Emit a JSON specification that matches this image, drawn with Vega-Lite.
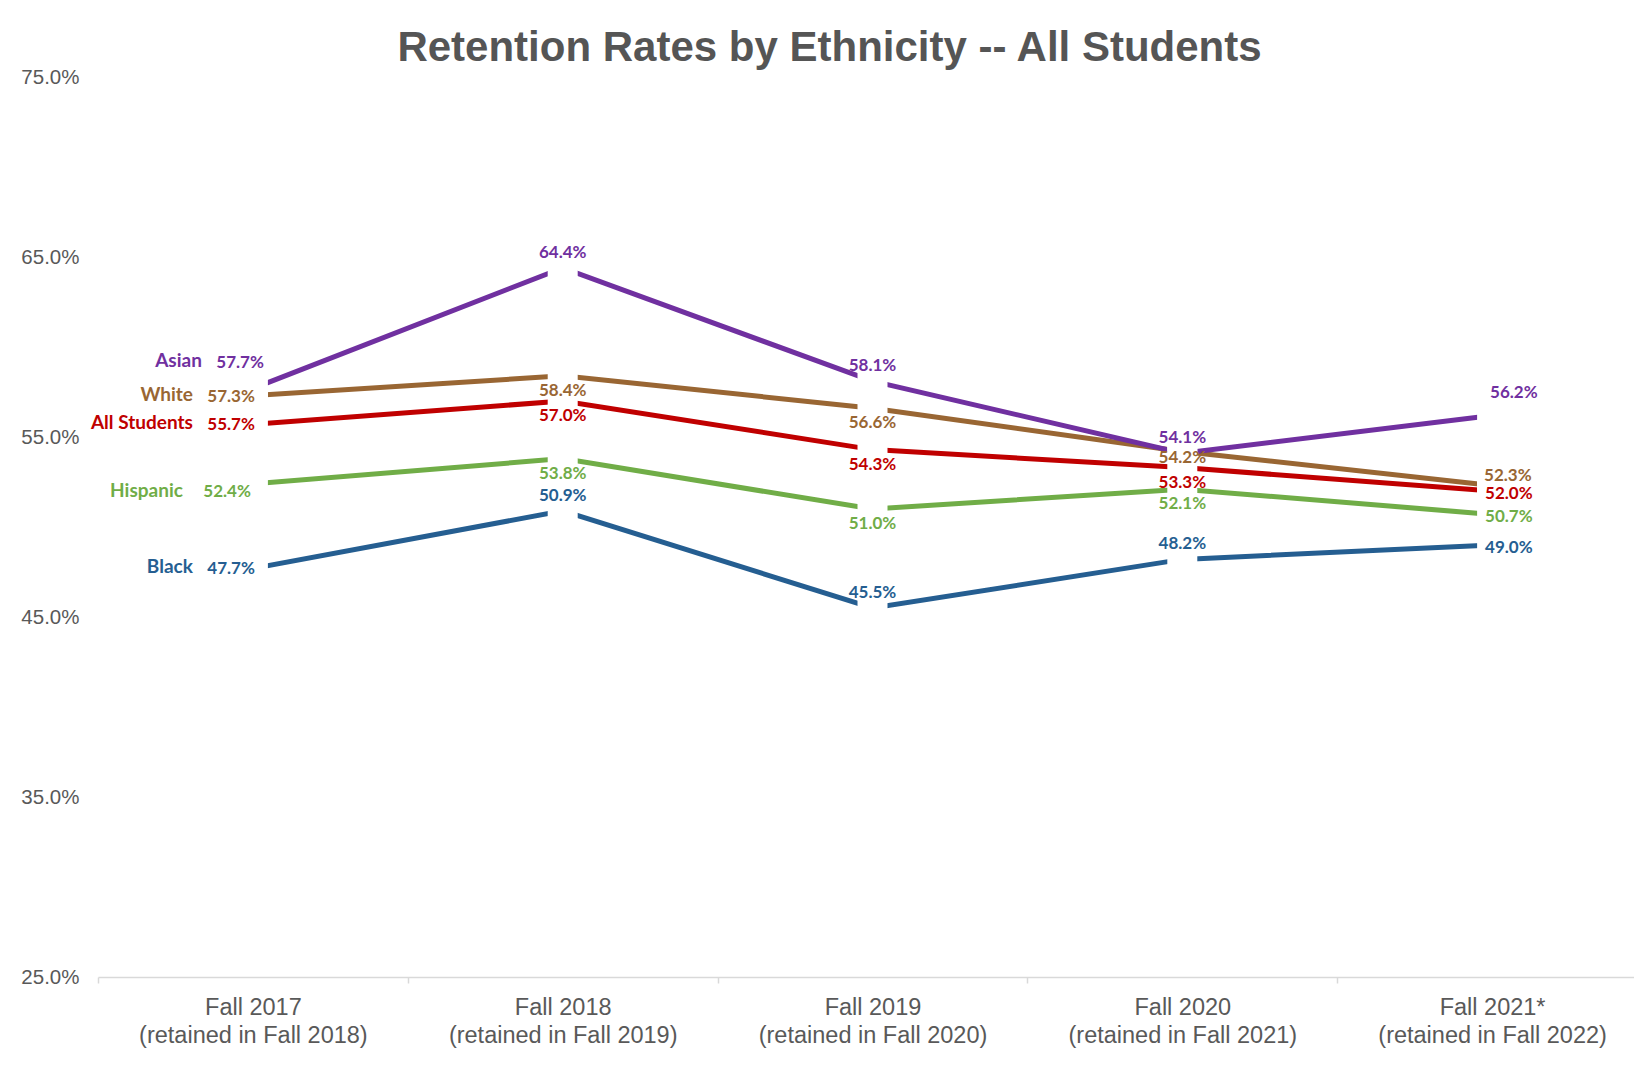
{
  "$schema": "https://vega.github.io/schema/vega-lite/v6.json",
  "autosize": {"type": "none"},
  "width": 1549,
  "height": 900,
  "padding": {"left": 98, "top": 77, "right": -13, "bottom": 102},
  "background": "white",
  "title": {
    "text": "Retention Rates by Ethnicity -- All Students",
    "anchor": "middle",
    "frame": "group",
    "dx": -43,
    "offset": -36,
    "baseline": "alphabetic",
    "font": "Liberation Sans",
    "fontSize": 42,
    "fontWeight": "bold",
    "color": "#555555"
  },
  "config": {
    "view": {"stroke": null},
    "axis": {"grid": false}
  },
  "data": {
    "values": [
      {"series": "Black", "period": "Fall 2017|(retained in Fall 2018)", "value": 0.477},
      {"series": "Black", "period": "Fall 2018|(retained in Fall 2019)", "value": 0.509},
      {"series": "Black", "period": "Fall 2019|(retained in Fall 2020)", "value": 0.455},
      {"series": "Black", "period": "Fall 2020|(retained in Fall 2021)", "value": 0.482},
      {"series": "Black", "period": "Fall 2021*|(retained in Fall 2022)", "value": 0.490},
      {"series": "Hispanic", "period": "Fall 2017|(retained in Fall 2018)", "value": 0.524},
      {"series": "Hispanic", "period": "Fall 2018|(retained in Fall 2019)", "value": 0.538},
      {"series": "Hispanic", "period": "Fall 2019|(retained in Fall 2020)", "value": 0.510},
      {"series": "Hispanic", "period": "Fall 2020|(retained in Fall 2021)", "value": 0.521},
      {"series": "Hispanic", "period": "Fall 2021*|(retained in Fall 2022)", "value": 0.507},
      {"series": "All Students", "period": "Fall 2017|(retained in Fall 2018)", "value": 0.557},
      {"series": "All Students", "period": "Fall 2018|(retained in Fall 2019)", "value": 0.570},
      {"series": "All Students", "period": "Fall 2019|(retained in Fall 2020)", "value": 0.543},
      {"series": "All Students", "period": "Fall 2020|(retained in Fall 2021)", "value": 0.533},
      {"series": "All Students", "period": "Fall 2021*|(retained in Fall 2022)", "value": 0.520},
      {"series": "White", "period": "Fall 2017|(retained in Fall 2018)", "value": 0.573},
      {"series": "White", "period": "Fall 2018|(retained in Fall 2019)", "value": 0.584},
      {"series": "White", "period": "Fall 2019|(retained in Fall 2020)", "value": 0.566},
      {"series": "White", "period": "Fall 2020|(retained in Fall 2021)", "value": 0.542},
      {"series": "White", "period": "Fall 2021*|(retained in Fall 2022)", "value": 0.523},
      {"series": "Asian", "period": "Fall 2017|(retained in Fall 2018)", "value": 0.577},
      {"series": "Asian", "period": "Fall 2018|(retained in Fall 2019)", "value": 0.644},
      {"series": "Asian", "period": "Fall 2019|(retained in Fall 2020)", "value": 0.581},
      {"series": "Asian", "period": "Fall 2020|(retained in Fall 2021)", "value": 0.541},
      {"series": "Asian", "period": "Fall 2021*|(retained in Fall 2022)", "value": 0.562}
    ]
  },
  "encoding": {
    "x": {
      "field": "period",
      "type": "nominal",
      "sort": null,
      "scale": {"paddingInner": 0, "paddingOuter": 0},
      "axis": {
        "title": null,
        "labelAngle": 0,
        "labelExpr": "split(datum.label, '|')",
        "labelFont": "Liberation Sans",
        "labelFontSize": 23.5,
        "labelColor": "#595959",
        "labelLineHeight": 28,
        "labelPadding": 12,
        "labelLimit": 400,
        "labelBaseline": "top",
        "tickBand": "extent",
        "tickSize": 6,
        "tickColor": "#d9d9d9",
        "tickWidth": 1.5,
        "domainColor": "#d9d9d9",
        "domainWidth": 1.5
      }
    },
    "y": {
      "field": "value",
      "type": "quantitative",
      "scale": {"domain": [0.25, 0.75], "zero": false, "nice": false},
      "axis": {
        "title": null,
        "values": [0.25, 0.35, 0.45, 0.55, 0.65, 0.75],
        "format": ".1%",
        "domain": false,
        "ticks": false,
        "labelPadding": 19,
        "labelFont": "Liberation Sans",
        "labelFontSize": 20.5,
        "labelColor": "#595959"
      }
    }
  },
  "layer": [
    {
      "mark": {"type": "line", "strokeWidth": 5},
      "encoding": {
        "color": {
          "field": "series",
          "type": "nominal",
          "scale": {
            "domain": ["Asian", "White", "All Students", "Hispanic", "Black"],
            "range": ["#7030A0", "#996633", "#C00000", "#70AD47", "#255E91"]
          },
          "legend": null
        }
      }
    },
    {
      "mark": {"type": "point", "shape": "M-1,-0.667H1V0.667H-1Z", "size": 900, "filled": true, "fill": "white", "stroke": null, "opacity": 1}
    },
    {
      "transform": [{"filter": "(datum.series == 'Asian' || datum.series == 'Black') && indexof(datum.period, 'Fall 2017') != 0 && indexof(datum.period, 'Fall 2021') != 0"}],
      "mark": {"type": "text", "font": "Lato", "fontWeight": "bold", "fontSize": 17, "align": "center", "baseline": "middle", "dy": -15},
      "encoding": {"text": {"field": "value", "format": ".1%"}, "color": {"field": "series", "type": "nominal", "legend": null}}
    },
    {
      "transform": [{"filter": "(datum.series == 'All Students' || datum.series == 'Hispanic' || (datum.series == 'White' && indexof(datum.period, 'Fall 2020') != 0)) && indexof(datum.period, 'Fall 2017') != 0 && indexof(datum.period, 'Fall 2021') != 0"}],
      "mark": {"type": "text", "font": "Lato", "fontWeight": "bold", "fontSize": 17, "align": "center", "baseline": "middle", "dy": 15},
      "encoding": {"text": {"field": "value", "format": ".1%"}, "color": {"field": "series", "type": "nominal", "legend": null}}
    },
    {
      "transform": [{"filter": "datum.series == 'White' && indexof(datum.period, 'Fall 2020') == 0"}],
      "mark": {"type": "text", "font": "Lato", "fontWeight": "bold", "fontSize": 17, "align": "center", "baseline": "middle", "dy": 7},
      "encoding": {"text": {"field": "value", "format": ".1%"}, "color": {"field": "series", "type": "nominal", "legend": null}}
    },
    {
      "transform": [{"filter": "datum.series == 'Asian' && indexof(datum.period, 'Fall 2021') == 0"}],
      "mark": {"type": "text", "font": "Lato", "fontWeight": "bold", "fontSize": 17, "align": "left", "baseline": "middle", "dx": -2, "dy": -22},
      "encoding": {"text": {"field": "value", "format": ".1%"}, "color": {"field": "series", "type": "nominal", "legend": null}}
    },
    {
      "transform": [{"filter": "datum.series == 'White' && indexof(datum.period, 'Fall 2021') == 0"}],
      "mark": {"type": "text", "font": "Lato", "fontWeight": "bold", "fontSize": 17, "align": "left", "baseline": "middle", "dx": -8, "dy": -10},
      "encoding": {"text": {"field": "value", "format": ".1%"}, "color": {"field": "series", "type": "nominal", "legend": null}}
    },
    {
      "transform": [{"filter": "datum.series != 'White' && datum.series != 'Asian' && indexof(datum.period, 'Fall 2021') == 0"}],
      "mark": {"type": "text", "font": "Lato", "fontWeight": "bold", "fontSize": 17, "align": "left", "baseline": "middle", "dx": -7, "dy": 3},
      "encoding": {"text": {"field": "value", "format": ".1%"}, "color": {"field": "series", "type": "nominal", "legend": null}}
    },
    {
      "transform": [{"filter": "datum.series == 'Asian' && indexof(datum.period, 'Fall 2017') == 0"}],
      "mark": {"type": "text", "font": "Lato", "fontWeight": "bold", "fontSize": 17, "align": "right", "baseline": "middle", "dx": 11, "dy": -25},
      "encoding": {"text": {"field": "value", "format": ".1%"}, "color": {"field": "series", "type": "nominal", "legend": null}}
    },
    {
      "transform": [{"filter": "datum.series == 'Asian' && indexof(datum.period, 'Fall 2017') == 0"}],
      "mark": {"type": "text", "font": "Lato", "fontWeight": "bold", "fontSize": 19, "align": "right", "baseline": "middle", "dx": -51, "dy": -27},
      "encoding": {"text": {"field": "series"}, "color": {"field": "series", "type": "nominal", "legend": null}}
    },
    {
      "transform": [{"filter": "datum.series == 'Hispanic' && indexof(datum.period, 'Fall 2017') == 0"}],
      "mark": {"type": "text", "font": "Lato", "fontWeight": "bold", "fontSize": 17, "align": "right", "baseline": "middle", "dx": -2, "dy": 8},
      "encoding": {"text": {"field": "value", "format": ".1%"}, "color": {"field": "series", "type": "nominal", "legend": null}}
    },
    {
      "transform": [{"filter": "datum.series == 'Hispanic' && indexof(datum.period, 'Fall 2017') == 0"}],
      "mark": {"type": "text", "font": "Lato", "fontWeight": "bold", "fontSize": 19, "align": "right", "baseline": "middle", "dx": -70, "dy": 7},
      "encoding": {"text": {"field": "series"}, "color": {"field": "series", "type": "nominal", "legend": null}}
    },
    {
      "transform": [{"filter": "datum.series != 'Hispanic' && datum.series != 'Asian' && indexof(datum.period, 'Fall 2017') == 0"}],
      "mark": {"type": "text", "font": "Lato", "fontWeight": "bold", "fontSize": 17, "align": "right", "baseline": "middle", "dx": 2, "dy": 1},
      "encoding": {"text": {"field": "value", "format": ".1%"}, "color": {"field": "series", "type": "nominal", "legend": null}}
    },
    {
      "transform": [{"filter": "datum.series != 'Hispanic' && datum.series != 'Asian' && indexof(datum.period, 'Fall 2017') == 0"}],
      "mark": {"type": "text", "font": "Lato", "fontWeight": "bold", "fontSize": 19, "align": "right", "baseline": "middle", "dx": -60, "dy": -1},
      "encoding": {"text": {"field": "series"}, "color": {"field": "series", "type": "nominal", "legend": null}}
    }
  ]
}
